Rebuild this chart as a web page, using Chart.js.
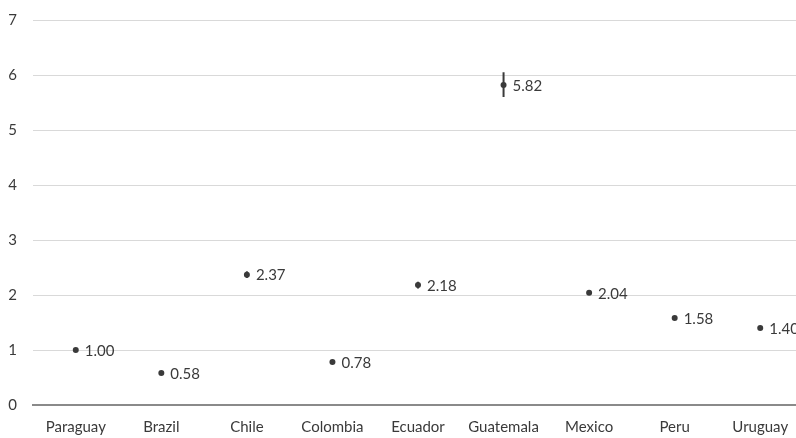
<!DOCTYPE html>
<html>
<head>
<meta charset="utf-8">
<script src="https://cdn.jsdelivr.net/npm/chart.js@4/dist/chart.umd.min.js"></script>
<style>
  html, body { margin: 0; padding: 0; background: #fff; overflow: hidden; }
  #wrap { width: 810px; height: 438px; position: relative; }
</style>
</head>
<body>
<div id="wrap"><canvas id="c" width="810" height="438"></canvas></div>
<script>
// Countries and odds ratios with their confidence bounds
const countries = ['Paraguay', 'Brazil', 'Chile', 'Colombia', 'Ecuador', 'Guatemala', 'Mexico', 'Peru', 'Uruguay'];
const ratios    = [1.00, 0.58, 2.37, 0.78, 2.18, 5.82, 2.04, 1.58, 1.40];
const lowerCI   = [1.00, 0.56, 2.31, 0.76, 2.12, 5.60, 2.00, 1.55, 1.37];
const upperCI   = [1.00, 0.60, 2.43, 0.80, 2.24, 6.05, 2.08, 1.61, 1.43];
const yTicks    = [0, 1, 2, 3, 4, 5, 6, 7];

const ink = '#3a3a3a';
const fontFamily = 'Lato, "Open Sans", sans-serif';

// Vertical interval whiskers through each point
const errorBars = {
  id: 'errorBars',
  afterDatasetsDraw(chart) {
    const ctx = chart.ctx;
    const xs = chart.scales.x, ys = chart.scales.y;
    ctx.save();
    ctx.strokeStyle = ink;
    ctx.lineWidth = 2;
    countries.forEach((c, i) => {
      if (upperCI[i] === lowerCI[i]) return;
      const x = xs.getPixelForValue(i);
      ctx.beginPath();
      ctx.moveTo(x, ys.getPixelForValue(lowerCI[i]));
      ctx.lineTo(x, ys.getPixelForValue(upperCI[i]));
      ctx.stroke();
    });
    ctx.restore();
  }
};

// Value labels to the right of each point
const valueLabels = {
  id: 'valueLabels',
  afterDatasetsDraw(chart) {
    const ctx = chart.ctx;
    const meta = chart.getDatasetMeta(0);
    ctx.save();
    ctx.fillStyle = ink;
    ctx.font = '15px ' + fontFamily;
    ctx.textAlign = 'left';
    ctx.textBaseline = 'middle';
    meta.data.forEach((pt, i) => {
      ctx.fillText(ratios[i].toFixed(2), pt.x + 9, pt.y + 1);
    });
    ctx.restore();
  }
};

new Chart(document.getElementById('c'), {
  type: 'line',
  data: {
    labels: countries,
    datasets: [{
      data: ratios,
      showLine: false,
      pointRadius: 3,
      pointHoverRadius: 3,
      pointBackgroundColor: ink,
      pointBorderColor: ink,
      pointBorderWidth: 0
    }]
  },
  options: {
    responsive: false,
    animation: false,
    events: [],
    layout: { padding: { top: 20, bottom: 0, left: 0, right: 7 } },
    plugins: { legend: { display: false }, tooltip: { enabled: false } },
    scales: {
      x: {
        offset: true,
        grid: { display: false, drawTicks: false },
        border: { display: true, color: '#8a8a8a', width: 2 },
        ticks: { color: ink, font: { size: 15, family: fontFamily }, padding: 13, maxRotation: 0, autoSkip: false },
        afterFit(s) { s.height = 33; }
      },
      y: {
        min: 0,
        max: 7,
        afterBuildTicks(s) { s.ticks = yTicks.map(v => ({ value: v })); },
        grid: { color: '#d9d9d9', lineWidth: 1, drawTicks: false },
        border: { display: false },
        ticks: { color: ink, font: { size: 15, family: fontFamily }, padding: 16 },
        afterFit(s) { s.width = 33; s.paddingTop = 0; s.paddingBottom = 0; }
      }
    }
  },
  plugins: [errorBars, valueLabels]
});
</script>
</body>
</html>
